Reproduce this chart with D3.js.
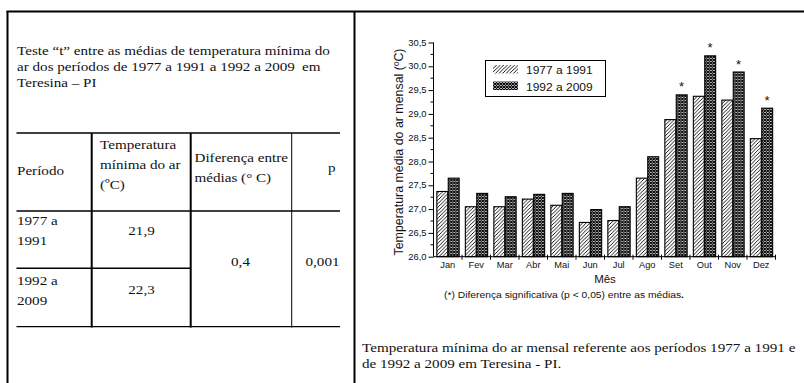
<!DOCTYPE html>
<html><head><meta charset="utf-8">
<script src="https://cdn.jsdelivr.net/npm/d3@7"></script>
<style>html,body{margin:0;padding:0;background:#fff;}svg{display:block;}</style>
</head><body>
<svg id="c" width="804" height="383" viewBox="0 0 804 383"></svg>
<script>
// ---------- data ----------
const months = ["Jan","Fev","Mar","Abr","Mai","Jun","Jul","Ago","Set","Out","Nov","Dez"];
const series1977 = [27.37,27.05,27.05,27.21,27.08,26.72,26.76,27.65,28.88,29.37,29.29,28.48];
const series1992 = [27.65,27.33,27.26,27.31,27.33,26.99,27.05,28.10,29.40,30.22,29.88,29.12];
const seriesNames = ["1977 a 1991","1992 a 2009"];
const significant = ["Set","Out","Nov","Dez"];
const yTicks = [26.0,26.5,27.0,27.5,28.0,28.5,29.0,29.5,30.0,30.5];
const yMinorTicks = [26.25,26.75,27.25,27.75,28.25,28.75,29.25,29.75,30.25];

const tableTitle = ["Teste “t” entre as médias de temperatura mínima do","ar dos períodos de 1977 a 1991 a 1992 a 2009","Teresina – PI"];
const tableHeader = {periodo:"Período", temp:["Temperatura","mínima do ar","(ºC)"], dif:["Diferença entre","médias (° C)"], p:"p"};
const tablePeriods = [["1977 a","1991"],["1992 a","2009"]];
const tableTemps = ["21,9","22,3"];
const tableDiff = "0,4";
const tableP = "0,001";
const caption = ["Temperatura mínima do ar mensal referente aos períodos 1977 a 1991 e","de 1992 a 2009 em Teresina - PI."];
const footnote = "(*) Diferença significativa (p < 0,05) entre as médias";
const xTitle = "M\u00eas";
const yTitle = "Temperatura média do ar mensal (ºC)";

// ---------- helpers ----------
const svg = d3.select("#c");
const SX = 1.12;
const SERIF = "'Liberation Serif','Times New Roman',serif";
const SANS = "'Liberation Sans',Arial,sans-serif";
function txt(x, y, s, size, family, anchor) {
  const g = svg.append("g").attr("transform", `translate(${x},${y}) scale(${SX},1)`);
  return g.append("text").attr("x",0).attr("y",0).attr("font-size",size).attr("font-family",family)
    .attr("text-anchor",anchor||"start").attr("fill","#111").text(s);
}
function line(x1,y1,x2,y2,w){
  svg.append("line").attr("x1",x1).attr("y1",y1).attr("x2",x2).attr("y2",y2)
    .attr("stroke","#000").attr("stroke-width",w);
}

// ---------- frame ----------
line(6.5,11.5,804,11.5,2);
line(7.5,11,7.5,383,2);
line(354.5,11,354.5,383,2);

// ---------- left table ----------
const TS = 13.5;
txt(17,55,tableTitle[0],TS,SERIF);
txt(17,71,tableTitle[1],TS,SERIF);
txt(302,71,"em",TS,SERIF);
txt(17,87,tableTitle[2],TS,SERIF);

line(16.5,133,340,133,1.3);
line(16.5,211,340,211,1.6);
line(16.5,268.3,190.7,268.3,1.6);
line(16.5,326.7,340,326.7,1.3);
line(91.7,133,91.7,327.5,2);
line(190.7,133,190.7,327.5,2);
line(291.7,133,291.7,327.5,1);

txt(17,175,tableHeader.periodo,TS,SERIF);
tableHeader.temp.forEach((t,i)=>txt(100,149+i*20,t,TS,SERIF));
tableHeader.dif.forEach((t,i)=>txt(194.5,162+i*20,t,TS,SERIF));
txt(328,172,tableHeader.p,TS,SERIF);
tablePeriods.forEach((p,r)=>p.forEach((t,i)=>txt(17,[225,285][r]+i*20,t,TS,SERIF)));
tableTemps.forEach((t,r)=>txt(141.5,[235,294][r],t,TS,SERIF,"middle"));
txt(240.5,266,tableDiff,TS,SERIF,"middle");
txt(322.5,266,tableP,TS,SERIF,"middle");

// ---------- chart ----------
const defs = svg.append("defs");
const ph = defs.append("pattern").attr("id","hatch").attr("patternUnits","userSpaceOnUse")
  .attr("width",3.6).attr("height",3.6);
ph.append("rect").attr("width",3.6).attr("height",3.6).attr("fill","#fff");
ph.append("path").attr("d","M-1,1 L1,-1 M0,3.6 L3.6,0 M2.6,4.6 L4.6,2.6").attr("stroke","#000").attr("stroke-width",0.9);
const pc = defs.append("pattern").attr("id","cross").attr("patternUnits","userSpaceOnUse")
  .attr("width",3).attr("height",3);
pc.append("rect").attr("width",3).attr("height",3).attr("fill","#fff");
pc.append("path").attr("d","M0,0 L3,3 M3,0 L0,3").attr("stroke","#000").attr("stroke-width",1.1);
const fills = ["url(#hatch)","url(#cross)"];

const x0 = d3.scaleBand().domain(months).range([433.5,775.5]).paddingInner(0.2).paddingOuter(0.1);
const x1 = d3.scaleBand().domain([0,1]).range([0,x0.bandwidth()]);
const y = d3.scaleLinear().domain([26,30.5]).range([256.7,42.5]);

const data = months.map((m,i)=>({m, v:[series1977[i],series1992[i]]}));
const grp = svg.append("g").selectAll("g").data(data).join("g")
  .attr("transform",d=>`translate(${x0(d.m)},0)`);
grp.selectAll("rect").data(d=>d.v.map((v,k)=>({v,k}))).join("rect")
  .attr("x",d=>x1(d.k)+0.5).attr("width",x1.bandwidth()-0.5)
  .attr("y",d=>y(d.v)).attr("height",d=>y(26)-y(d.v))
  .attr("fill",d=>fills[d.k]).attr("stroke","#000").attr("stroke-width",1.1);

// stars
data.filter(d=>significant.includes(d.m)).forEach(d=>{
  svg.append("text").attr("x",x0(d.m)+x1(1)+x1.bandwidth()/2).attr("y",y(d.v[1])-3.5)
    .attr("text-anchor","middle").attr("font-family",SANS).attr("font-size",13).attr("fill","#111").text("*");
});

// y axis
const yAxis = d3.axisLeft(y).tickValues(yTicks).tickSize(5).tickPadding(2)
  .tickFormat(d=>d.toFixed(1).replace(".",","));
const ya = svg.append("g").attr("transform","translate(433.5,0)").call(yAxis);
ya.select(".domain").attr("d",`M0,${y(30.5)}V${y(26)}`).attr("stroke","#000");
ya.selectAll(".tick line").attr("stroke","#000");
ya.selectAll(".tick text").attr("font-family",SANS).attr("font-size",8.4).attr("fill","#111")
  .attr("x",0).attr("transform",`translate(-7,0) scale(${SX},1)`);
ya.selectAll(".minor").data(yMinorTicks).join("line").attr("class","minor")
  .attr("x1",-3).attr("x2",0).attr("y1",d=>y(d)).attr("y2",d=>y(d)).attr("stroke","#000");

// x axis
const xAxis = d3.axisBottom(x0).tickSize(0).tickPadding(6);
const xa = svg.append("g").attr("transform",`translate(0,${y(26)})`).call(xAxis);
xa.select(".domain").attr("d",`M433.5,0H775.5`).attr("stroke","#000");
xa.selectAll(".tick text").attr("font-family",SANS).attr("font-size",8.3).attr("fill","#111")
  .attr("dy",null).attr("y",11.5).attr("x",0).attr("transform",`scale(${SX},1)`);
const bounds = d3.range(1,months.length+1).map(i=>x0.range()[0]+i*x0.step());
xa.selectAll(".bt").data(bounds).join("line").attr("class","bt")
  .attr("x1",d=>d).attr("x2",d=>d).attr("y1",-2).attr("y2",3).attr("stroke","#000");
xa.append("text").attr("class","xtitle").attr("x",605).attr("y",26)
  .attr("text-anchor","middle").attr("font-family",SANS).attr("font-size",11.5).attr("fill","#111")
  .text(xTitle);

// y axis title
svg.append("text").attr("transform","translate(402.5,152) rotate(-90)")
  .attr("text-anchor","middle").attr("font-family",SANS).attr("font-size",12.4).attr("fill","#111")
  .text(yTitle);

// legend
svg.append("rect").attr("x",485.5).attr("y",60.5).attr("width",120).attr("height",36)
  .attr("fill","#fff").attr("stroke","#000").attr("stroke-width",1);
seriesNames.forEach((n,i)=>{
  svg.append("rect").attr("x",493).attr("y",65+i*16.5).attr("width",25).attr("height",8.5).attr("fill",fills[i]);
  txt(526,74+i*16.5,n,10.7,SANS);
});

// footnote & caption
const fn = txt(564,298,footnote,9.2,SANS,"middle");
fn.append("tspan").attr("font-weight","bold").text(".");
txt(362,352,caption[0],13.5,SERIF);
txt(362,367.5,caption[1],13.5,SERIF);
</script>
</body></html>
